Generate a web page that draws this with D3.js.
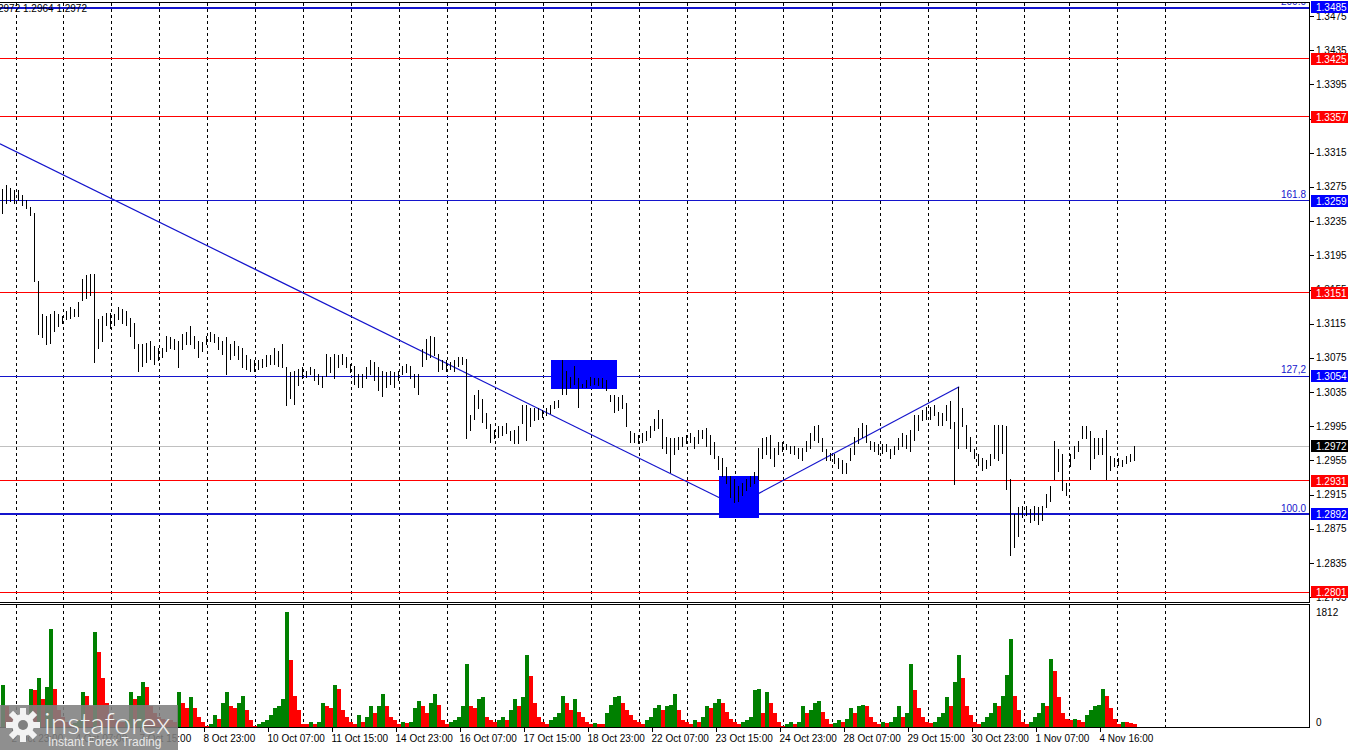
<!DOCTYPE html>
<html><head><meta charset="utf-8">
<script src="https://cdn.jsdelivr.net/npm/d3@7"></script>
<style>
body{margin:0;background:#fff;}
svg{display:block;font-family:"Liberation Sans",Arial,sans-serif;}
</style>
</head><body>
<svg id="c" width="1350" height="750"></svg>
<script>
// ---------- DATA (GBPUSD) ----------
const highs = [
1.3273,1.3277,1.3274,1.3272,1.3271,1.3265,1.3260,1.3252,1.3244,1.3165,
1.3126,1.3124,1.3126,1.3130,1.3126,1.3124,1.3130,1.3134,1.3132,1.3140,
1.3167,1.3172,1.3173,1.3173,1.3120,1.3124,1.3128,1.3128,1.3126,1.3134,
1.3132,1.3130,1.3122,1.3116,1.3091,1.3091,1.3092,1.3095,1.3089,1.3087,
1.3087,1.3101,1.3099,1.3097,1.3095,1.3103,1.3105,1.3112,1.3101,1.3095,
1.3093,1.3101,1.3105,1.3103,1.3099,1.3095,1.3099,1.3091,1.3095,1.3089,
1.3087,1.3078,1.3074,1.3072,1.3072,1.3074,1.3078,1.3078,1.3087,1.3083,
1.3091,1.3064,1.3058,1.3060,1.3062,1.3064,1.3060,1.3064,1.3062,1.3056,
1.3054,1.3080,1.3076,1.3080,1.3078,1.3080,1.3076,1.3068,1.3066,1.3056,
1.3056,1.3064,1.3072,1.3070,1.3064,
1.3060,1.3058,1.3060,1.3058,1.3060,1.3066,1.3068,1.3066,1.3056,1.3056,
1.3085,1.3097,1.3101,1.3099,1.3080,1.3072,1.3072,1.3070,1.3072,1.3076,
1.3076,1.3074,1.3008,1.3031,1.3037,1.3027,1.3010,1.2998,1.2991,1.2995,
1.2995,1.2999,1.2989,1.2991,1.2995,1.3020,1.3020,1.3016,1.3016,1.3016,
1.3014,1.3016,1.3020,1.3024,1.3026,1.3072,1.3060,1.3053,1.3066,1.3051,
1.3045,1.3049,1.3053,1.3051,1.3051,1.3051,1.3049,1.3031,1.3031,1.3029,
1.3031,1.3022,1.2989,1.2987,1.2985,1.2987,1.2989,1.2995,1.3003,1.3014,
1.3003,1.2983,1.2981,1.2981,1.2983,1.2983,1.2985,1.2987,1.2983,1.2991,
1.2991,1.2993,1.2985,1.2976,1.2960,1.2958,1.2947,1.2937,1.2933,1.2925,
1.2929,1.2933,1.2937,1.2941,
1.2970,1.2981,1.2983,1.2985,1.2970,1.2976,1.2976,1.2974,1.2972,1.2972,
1.2970,1.2970,1.2978,1.2987,1.2995,1.2997,1.2981,1.2968,1.2964,1.2962,
1.2958,1.2956,1.2952,1.2970,1.2983,1.2993,1.2999,1.2997,1.2978,1.2976,
1.2974,1.2974,1.2974,1.2968,1.2972,1.2981,1.2987,1.2985,1.2991,1.3008,
1.3008,1.3014,1.3018,1.3018,1.3020,1.3012,1.3010,1.3020,1.3024,1.3000,
1.3041,1.3016,1.2997,1.2983,1.2968,1.2962,1.2958,1.2956,1.2962,1.2997,
1.2997,1.2997,1.2995,1.2933,1.2892,1.2900,1.2902,1.2902,1.2898,1.2902,
1.2900,1.2902,1.2916,1.2925,1.2978,1.2968,1.2962,1.2929,1.2962,1.2972,
1.2978,1.2995,1.2995,1.2989,1.2981,1.2981,1.2981,1.2991,1.2960,1.2958,
1.2958,1.2956,1.2960,1.2962,1.2972
];
const lows = [
1.3245,1.3256,1.3259,1.3256,1.3260,1.3254,1.3250,1.3242,1.3165,1.3103,
1.3099,1.3091,1.3092,1.3107,1.3112,1.3116,1.3120,1.3122,1.3124,1.3124,
1.3143,1.3145,1.3149,1.3070,1.3087,1.3095,1.3114,1.3110,1.3114,1.3120,
1.3116,1.3114,1.3101,1.3087,1.3060,1.3066,1.3070,1.3074,1.3068,1.3072,
1.3076,1.3083,1.3087,1.3085,1.3064,1.3085,1.3091,1.3091,1.3087,1.3076,
1.3083,1.3091,1.3095,1.3093,1.3085,1.3080,1.3056,1.3074,1.3078,1.3074,
1.3064,1.3062,1.3060,1.3060,1.3062,1.3064,1.3066,1.3068,1.3068,1.3066,
1.3064,1.3020,1.3028,1.3021,1.3043,1.3051,1.3053,1.3056,1.3049,1.3045,
1.3041,1.3054,1.3058,1.3051,1.3064,1.3068,1.3064,1.3058,1.3045,1.3041,
1.3041,1.3051,1.3056,1.3049,1.3037,
1.3030,1.3041,1.3045,1.3041,1.3049,1.3056,1.3058,1.3051,1.3041,1.3033,
1.3066,1.3074,1.3076,1.3078,1.3060,1.3062,1.3060,1.3062,1.3060,1.3066,
1.3068,1.2981,1.2991,1.3004,1.3016,1.3000,1.2993,1.2977,1.2981,1.2983,
1.2985,1.2987,1.2979,1.2975,1.2975,1.2999,1.2979,1.2995,1.3002,1.3004,
1.3006,1.3008,1.3010,1.3016,1.3018,1.3033,1.3033,1.3041,1.3045,1.3018,
1.3041,1.3041,1.3043,1.3045,1.3043,1.3041,1.3037,1.3024,1.3012,1.3014,
1.3016,1.2995,1.2977,1.2977,1.2975,1.2977,1.2979,1.2983,1.2991,1.2993,
1.2970,1.2964,1.2941,1.2962,1.2968,1.2972,1.2975,1.2977,1.2970,1.2975,
1.2981,1.2972,1.2962,1.2958,1.2945,1.2937,1.2929,1.2912,1.2906,1.2908,
1.2914,1.2921,1.2925,1.2929,
1.2933,1.2958,1.2962,1.2958,1.2948,1.2962,1.2966,1.2968,1.2964,1.2962,
1.2958,1.2956,1.2966,1.2970,1.2979,1.2977,1.2966,1.2956,1.2956,1.2952,
1.2946,1.2940,1.2940,1.2956,1.2962,1.2975,1.2983,1.2977,1.2968,1.2966,
1.2962,1.2964,1.2966,1.2958,1.2962,1.2968,1.2972,1.2970,1.2966,1.2979,
1.2991,1.3002,1.3004,1.3004,1.3008,1.2997,1.2997,1.3002,1.2993,1.2927,
1.2970,1.2995,1.2970,1.2966,1.2958,1.2950,1.2944,1.2946,1.2950,1.2958,
1.2956,1.2964,1.2922,1.2844,1.2854,1.2867,1.2889,1.2891,1.2883,1.2885,
1.2881,1.2885,1.2900,1.2908,1.2933,1.2943,1.2920,1.2914,1.2948,1.2958,
1.2966,1.2981,1.2981,1.2945,1.2958,1.2962,1.2962,1.2933,1.2944,1.2948,
1.2950,1.2948,1.2952,1.2954,1.2956
];
const volumes = [
626,313,157,104,78,104,157,574,548,731,
418,600,1462,574,261,157,78,52,63,104,
522,470,313,1409,1122,731,365,183,104,78,
78,104,522,418,470,679,600,313,209,157,
130,104,104,78,522,365,287,444,287,157,
78,26,52,183,130,365,522,313,287,365,
470,261,104,26,52,78,104,183,287,313,
418,1712,992,470,261,52,52,78,52,78,
365,313,287,626,574,261,157,78,52,183,
78,157,313,209,313,
496,313,157,104,52,78,63,78,287,392,
313,209,365,496,339,104,52,78,104,157,
313,940,313,287,418,444,157,104,78,104,
157,104,261,418,313,444,1070,757,365,157,
78,52,104,157,209,470,365,261,418,235,
157,78,52,63,52,52,209,339,444,470,
365,261,183,104,78,52,104,157,287,339,
261,313,339,496,261,104,78,52,104,78,
157,313,287,365,418,365,235,130,78,52,
78,104,157,548,
574,209,522,365,209,78,26,52,78,52,
78,313,209,261,365,392,235,130,52,63,
104,78,130,287,209,313,339,313,157,78,
52,78,63,78,157,313,157,209,940,548,
287,157,78,63,78,157,209,444,313,679,
1070,731,313,183,78,52,78,157,209,365,
313,470,783,1305,470,261,78,52,78,157,
209,365,313,1018,835,444,209,130,104,130,
104,78,183,261,313,339,574,470,287,130,
52,78,78,63,52
];
const timeLabels = ["2 Oct 23:00","4 Oct 07:00","7 Oct 15:00","8 Oct 23:00","10 Oct 07:00","11 Oct 15:00",
  "14 Oct 23:00","16 Oct 07:00","17 Oct 15:00","18 Oct 23:00","22 Oct 07:00","23 Oct 15:00",
  "24 Oct 23:00","28 Oct 07:00","29 Oct 15:00","30 Oct 23:00","1 Nov 07:00","4 Nov 16:00"];
const timeLabelPos = [2.5,18.5,34.5,50.5,66.5,82.5,98.5,114.5,130.5,146.5,162.5,178.5,194.5,210.5,226.5,242.5,258.5,274.5];
const daySeparators = [3.4,15.3,27.3,39.3,51.3,63.3,75.3,87.3,99.3,111.3,123.3,135.3,147.3,159.3,171.3,183.3,
  195.3,207.4,219.4,231.4,243.4,255.4,266.8,278.8,290.8];
const priceTicks = [1.3475,1.3435,1.3395,1.3355,1.3315,1.3275,1.3235,1.3195,1.3155,1.3115,1.3075,1.3035,
  1.2995,1.2955,1.2915,1.2875,1.2835,1.2795];
const levelPrices = [1.3485,1.3425,1.3357,1.3259,1.3151,1.3054,1.2972,1.2931,1.2892,1.2801];
const levelKinds  = ["fibo","red","red","fibo","red","fibo","last","red","fibo","red"];
const levelTexts  = ["200.0","","","161.8","","127,2","","","100.0",""];
const levelWidths = [2,1,1,1,1,1,1,1,2,1];
const trendLines = [ // [startIndex, startPrice, endIndex, endPrice]
  [-0.5, 1.33255, 179.5, 1.29111],
  [189.1, 1.29162, 239.3, 1.30413]
];
const boxes = [ // [startIndex, endIndex, topPrice, bottomPrice]
  [137.25, 153.75, 1.30724, 1.30380],
  [179.25, 189.2, 1.29369, 1.28872]
];
const volumeMax = 1812;

// ---------- SCALES ----------
const svg = d3.select("#c");
const n = Math.min(highs.length, lows.length);
const x = d3.scaleLinear().domain([0, 283]).range([2, 1134]);
const y = d3.scaleLinear().domain([1.2795, 1.3475]).range([597.2, 16]);
const yv = d3.scaleLinear().domain([0, volumeMax]).range([727.5, 605]);
const AX = 1309.5;
const BLUE = "#1414cc", RED = "#ff0000";
const px = v => Math.round(v) + 0.5;
const evenRow = v => 2 * Math.round(v / 2) + 0.5;   // keep thin coloured lines on even pixel rows

svg.append("rect").attr("width",1350).attr("height",750).attr("fill","#fff");
const defs = svg.append("defs");
defs.append("clipPath").attr("id","pc").append("rect").attr("x",0).attr("y",3).attr("width",1309).attr("height",599);
defs.append("clipPath").attr("id","vc").append("rect").attr("x",0).attr("y",605).attr("width",1309).attr("height",122);

// grid
const grid = svg.append("g").attr("stroke","#000").attr("stroke-dasharray","3,3").attr("shape-rendering","crispEdges");
daySeparators.forEach(d => {
  const xx = px(x(d));
  if (xx > AX) return;
  grid.append("line").attr("x1",xx).attr("x2",xx).attr("y1",3).attr("y2",602);
  grid.append("line").attr("x1",xx).attr("x2",xx).attr("y1",605).attr("y2",727);
});

// price panel
const pg = svg.append("g").attr("clip-path","url(#pc)");
levelPrices.forEach((p,i) => {
  const col = levelKinds[i]==="fibo" ? BLUE : levelKinds[i]==="red" ? RED : "#c0c0c0";
  const yy = levelWidths[i]===2 ? 2 * Math.round(y(p) / 2) : evenRow(y(p));
  pg.append("line").attr("x1",0).attr("x2",AX).attr("y1",yy).attr("y2",yy)
    .attr("stroke",col).attr("stroke-width",levelWidths[i]).attr("shape-rendering","crispEdges");
  if (levelTexts[i]) {
    pg.append("text").attr("x",1306).attr("y",y(p)-2.5).attr("text-anchor","end")
      .attr("font-size",10).attr("fill",BLUE).text(levelTexts[i]);
  }
});
boxes.forEach(b => {
  pg.append("rect").attr("x",Math.round(x(b[0]))).attr("y",Math.round(y(b[2])))
    .attr("width",Math.round(x(b[1])-x(b[0]))).attr("height",Math.round(y(b[3])-y(b[2])))
    .attr("fill","#0000ff");
});
trendLines.forEach(t => {
  pg.append("line").attr("x1",x(t[0])).attr("y1",y(t[1])).attr("x2",x(t[2])).attr("y2",y(t[3]))
    .attr("stroke",BLUE).attr("stroke-width",1.2);
});
pg.append("g").attr("stroke","#000").attr("shape-rendering","crispEdges")
  .selectAll("line").data(d3.range(n)).join("line")
  .attr("x1",i=>px(x(i))).attr("x2",i=>px(x(i)))
  .attr("y1",i=>Math.round(y(highs[i]))).attr("y2",i=>Math.round(y(lows[i]))+1);

// volume panel
const vg = svg.append("g").attr("clip-path","url(#vc)").attr("shape-rendering","crispEdges");
vg.selectAll("rect").data(d3.range(volumes.length)).join("rect")
  .attr("x",i=>Math.round(x(i))-1).attr("width",4)
  .attr("y",i=>yv(volumes[i])).attr("height",i=>yv(0)-yv(volumes[i]))
  .attr("fill",i=> (i===0 || volumes[i] > volumes[i-1]) ? "#008000" : "#ff0000");

// frames
const fr = svg.append("g").attr("stroke","#000").attr("shape-rendering","crispEdges");
[[0,2.5,AX,2.5],[0,602.5,AX,602.5],[0,604.5,AX,604.5],[0,727.5,AX,727.5],[AX,2,AX,603],[AX,604,AX,728]]
  .forEach(l => fr.append("line").attr("x1",l[0]).attr("y1",l[1]).attr("x2",l[2]).attr("y2",l[3]));

// price axis
const ax = svg.append("g").attr("font-size",10).attr("fill","#000");
priceTicks.forEach(p => {
  const yy = px(y(p));
  ax.append("line").attr("x1",AX).attr("x2",AX+4).attr("y1",yy).attr("y2",yy).attr("stroke","#000").attr("shape-rendering","crispEdges");
  ax.append("text").attr("x",1316).attr("y",y(p)+3.5).text(p.toFixed(4));
});
levelPrices.forEach((p,i) => {
  const col = levelKinds[i]==="fibo" ? "#0000ff" : levelKinds[i]==="red" ? "#ff0000" : "#000";
  const yy = Math.round(y(p));
  ax.append("rect").attr("x",1311).attr("y",yy-6).attr("width",37).attr("height",12).attr("fill",col);
  ax.append("text").attr("x",1316).attr("y",yy+4).attr("fill","#fff").text(p.toFixed(4));
});
// volume axis
[[volumeMax,"1812",616],[0,"0",726]].forEach(v => {
  ax.append("text").attr("x",1316).attr("y",v[2]).text(v[1]);
});

// time axis
const ta = svg.append("g").attr("font-size",10).attr("fill","#000");
timeLabels.forEach((t,i) => {
  const xx = px(x(timeLabelPos[i]));
  ta.append("line").attr("x1",xx).attr("x2",xx).attr("y1",728).attr("y2",732).attr("stroke","#000").attr("shape-rendering","crispEdges");
  ta.append("text").attr("x",xx-1).attr("y",742).text(t);
});

// header
svg.append("text").attr("x",-2).attr("y",12).attr("font-size",10).attr("fill","#000").text("2972 1.2964 1.2972");

// logo
const lg = svg.append("g");
lg.append("rect").attr("x",0).attr("y",705).attr("width",178).attr("height",45).attr("fill","#808080").attr("opacity",0.88);
const gear = lg.append("g").attr("transform","translate(23,725)").attr("fill","#f2f2f2");
d3.range(8).forEach(k => gear.append("rect").attr("x",-3).attr("y",-17).attr("width",6).attr("height",8)
  .attr("transform",`rotate(${k*45})`));
gear.append("circle").attr("r",11);
gear.append("circle").attr("r",5).attr("fill","#808080");
lg.append("text").attr("x",44).attr("y",734).attr("font-size",30).attr("font-family","Lato, 'Open Sans', sans-serif")
  .attr("font-weight",300).attr("fill","#f2f2f2").text("instaforex");
lg.append("text").attr("x",48).attr("y",746).attr("font-size",12).attr("fill","#e8e8e8").text("Instant Forex Trading");
</script>
</body></html>
